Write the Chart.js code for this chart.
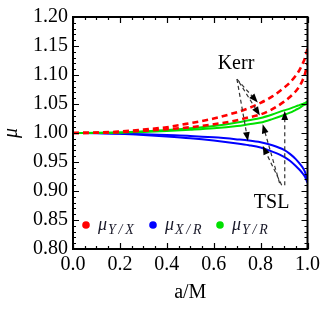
<!DOCTYPE html>
<html>
<head>
<meta charset="utf-8">
<script src="https://cdn.jsdelivr.net/npm/chart.js@4.4.0/dist/chart.umd.min.js"></script>
<style>
  html, body { margin: 0; padding: 0; background: #fff; }
  #wrap { width: 324px; height: 309px; }
</style>
</head>
<body>
<div id="wrap"><canvas id="chart" width="324" height="309"></canvas></div>
<script>
'use strict';

// spin parameter a/M
const spins = [0, 0.1, 0.2, 0.3, 0.4, 0.5, 0.6, 0.7, 0.75, 0.8, 0.85, 0.9, 0.925, 0.95, 0.965, 0.98, 0.99, 1.0];

// mu_Y/X (red dashed) - two curves
const muYX_a = [1.000, 1.0007, 1.0025, 1.006, 1.010, 1.017, 1.025, 1.036, 1.043, 1.052, 1.063, 1.078, 1.087, 1.099, 1.108, 1.120, 1.130, 1.145];
const muYX_b = [1.000, 1.0004, 1.0015, 1.004, 1.0065, 1.010, 1.015, 1.022, 1.027, 1.032, 1.041, 1.054, 1.062, 1.072, 1.080, 1.092, 1.103, 1.120];
// mu_Y/R (green)
const muYR_a = [1.000, 1.0003, 1.001, 1.003, 1.005, 1.008, 1.012, 1.018, 1.022, 1.026, 1.032, 1.039, 1.042, 1.046, 1.048, 1.050, 1.052, 1.054];
const muYR_b = [1.000, 1.0002, 1.0007, 1.0018, 1.0035, 1.0055, 1.008, 1.012, 1.015, 1.018, 1.024, 1.031, 1.035, 1.040, 1.043, 1.047, 1.049, 1.052];
// mu_X/R (blue)
const muXR_a = [1.000, 0.9998, 0.999, 0.998, 0.9965, 0.995, 0.9925, 0.989, 0.987, 0.984, 0.979, 0.971, 0.964, 0.955, 0.948, 0.940, 0.932, 0.917];
const muXR_b = [1.000, 0.9997, 0.9985, 0.9965, 0.994, 0.991, 0.987, 0.982, 0.979, 0.975, 0.968, 0.959, 0.952, 0.943, 0.937, 0.930, 0.924, 0.914];

const xTicks = [0, 0.2, 0.4, 0.6, 0.8, 1.0];
const yTicks = [0.80, 0.85, 0.90, 0.95, 1.00, 1.05, 1.10, 1.15, 1.20];

const legendNames = ['Y/X', 'X/R', 'Y/R'];
const legendColors = ['#ff0000', '#0000ff', '#00e000'];

// annotation arrows, in data units [x0, y0, x1, y1]
const kerrLabel = { text: 'Kerr', x: 0.695, y: 1.119 };
const kerrArrows = [
    [0.699, 1.093, 0.788, 1.0525],
    [0.708, 1.088, 0.797, 1.030],
    [0.699, 1.093, 0.746, 0.986]
];
const tslLabel = { text: 'TSL', x: 0.847, y: 0.880 };
const tslArrows = [
    [0.881, 0.9136, 0.809, 1.015],
    [0.890, 0.910, 0.809, 0.978],
    [0.903, 0.910, 0.903, 1.038]
];

const FONT = "'Liberation Serif', 'Times New Roman', serif";

function pts(ys) {
    return spins.map((x, i) => ({ x: x, y: ys[i] }));
}

function line(ys, color, dashed) {
    return {
        data: pts(ys),
        borderColor: color,
        borderWidth: dashed ? 2.6 : 2,
        borderDash: dashed ? [6, 4] : [],
        pointRadius: 0,
        fill: false,
        cubicInterpolationMode: 'monotone'
    };
}

function arrow(ctx, xs, ys, a) {
    const x0 = xs.getPixelForValue(a[0]), y0 = ys.getPixelForValue(a[1]);
    const x1 = xs.getPixelForValue(a[2]), y1 = ys.getPixelForValue(a[3]);
    const ang = Math.atan2(y1 - y0, x1 - x0);
    const len = 9, w = 3.4;
    const bx = x1 - len * Math.cos(ang), by = y1 - len * Math.sin(ang);
    ctx.save();
    ctx.strokeStyle = '#333';
    ctx.lineWidth = 1.2;
    ctx.setLineDash([4, 3]);
    ctx.beginPath();
    ctx.moveTo(x0, y0);
    ctx.lineTo(bx, by);
    ctx.stroke();
    ctx.setLineDash([]);
    ctx.fillStyle = '#000';
    ctx.beginPath();
    ctx.moveTo(x1, y1);
    ctx.lineTo(bx + w * Math.sin(ang), by - w * Math.cos(ang));
    ctx.lineTo(bx - w * Math.sin(ang), by + w * Math.cos(ang));
    ctx.closePath();
    ctx.fill();
    ctx.restore();
}

// frame with inward ticks, annotations and legend
const decorPlugin = {
    id: 'decor',
    afterDatasetsDraw(chart) {
        const ctx = chart.ctx;
        const a = chart.chartArea;
        const xs = chart.scales.x, ys = chart.scales.y;

        // ticks
        ctx.save();
        ctx.strokeStyle = '#000';
        ctx.lineWidth = 1.2;
        for (let i = 0; i <= 40; i++) {
            const v = 0.8 + i * 0.01;
            const p = Math.round(ys.getPixelForValue(v)) + 0.5;
            const l = (i % 5 === 0) ? 6 : 3;
            ctx.beginPath();
            ctx.moveTo(a.left, p); ctx.lineTo(a.left + l, p);
            ctx.moveTo(a.right, p); ctx.lineTo(a.right - l, p);
            ctx.stroke();
        }
        for (let i = 0; i <= 20; i++) {
            const v = i * 0.05;
            const p = Math.round(xs.getPixelForValue(v)) + 0.5;
            const l = (i % 4 === 0) ? 6 : 3;
            ctx.beginPath();
            ctx.moveTo(p, a.bottom); ctx.lineTo(p, a.bottom - l);
            ctx.moveTo(p, a.top); ctx.lineTo(p, a.top + l);
            ctx.stroke();
        }
        ctx.lineWidth = 2;
        ctx.strokeRect(a.left, a.top, a.right - a.left, a.bottom - a.top);
        ctx.restore();

        // arrows and labels
        kerrArrows.forEach(ar => arrow(ctx, xs, ys, ar));
        tslArrows.forEach(ar => arrow(ctx, xs, ys, ar));
        ctx.save();
        ctx.fillStyle = '#000';
        ctx.font = '20px ' + FONT;
        ctx.textAlign = 'center';
        ctx.textBaseline = 'middle';
        ctx.fillText(kerrLabel.text, xs.getPixelForValue(kerrLabel.x), ys.getPixelForValue(kerrLabel.y));
        ctx.fillText(tslLabel.text, xs.getPixelForValue(tslLabel.x), ys.getPixelForValue(tslLabel.y));
        ctx.restore();

        // legend inside the plot
        ctx.save();
        const ly = a.bottom - 24;
        legendNames.forEach((name, i) => {
            const x = a.left + 13 + i * 67;
            ctx.fillStyle = legendColors[i];
            ctx.beginPath();
            ctx.arc(x, ly, 3.8, 0, Math.PI * 2);
            ctx.fill();
            ctx.fillStyle = '#1a1a2a';
            ctx.textBaseline = 'alphabetic';
            ctx.textAlign = 'left';
            ctx.font = 'italic 18px ' + FONT;
            ctx.fillText('\u03bc', x + 12, ly + 5);
            ctx.font = 'italic 14px ' + FONT;
            ctx.fillText(name.replace('/', '\u2009/\u2009'), x + 22, ly + 9);
        });
        ctx.restore();
    }
};

new Chart(document.getElementById('chart'), {
    type: 'line',
    data: {
        datasets: [
            line(muYX_a, '#ff0000', true),
            line(muYX_b, '#ff0000', true),
            line(muYR_a, '#00e000', false),
            line(muYR_b, '#00e000', false),
            line(muXR_a, '#0000ff', false),
            line(muXR_b, '#0000ff', false)
        ]
    },
    options: {
        responsive: false,
        animation: false,
        layout: { padding: { top: 13, right: 15, left: 0, bottom: 0 } },
        plugins: { legend: { display: false }, tooltip: { enabled: false } },
        scales: {
            x: {
                type: 'linear',
                min: 0, max: 1,
                afterFit: s => { s.height = 60; },
                afterBuildTicks: s => { s.ticks = xTicks.map(v => ({ value: v })); },
                grid: { display: false, drawTicks: false },
                border: { display: false },
                ticks: {
                    color: '#000', padding: 4,
                    font: { family: FONT, size: 20 },
                    maxRotation: 0,
                    callback: v => v.toFixed(1)
                },
                title: {
                    display: true, text: 'a/M', color: '#000',
                    font: { family: FONT, size: 20 },
                    padding: { top: 0, bottom: 4 }
                }
            },
            y: {
                min: 0.8, max: 1.2,
                afterFit: s => { s.width = 73; },
                afterBuildTicks: s => { s.ticks = yTicks.map(v => ({ value: v })); },
                grid: { display: false, drawTicks: false },
                border: { display: false },
                ticks: {
                    color: '#000', padding: 5,
                    font: { family: FONT, size: 20 },
                    callback: v => v.toFixed(2)
                },
                title: {
                    display: true, text: '\u03bc', color: '#000',
                    font: { family: FONT, size: 20, style: 'italic' },
                    padding: { top: 0, bottom: 0 }
                }
            }
        }
    },
    plugins: [decorPlugin]
});
</script>
</body>
</html>
